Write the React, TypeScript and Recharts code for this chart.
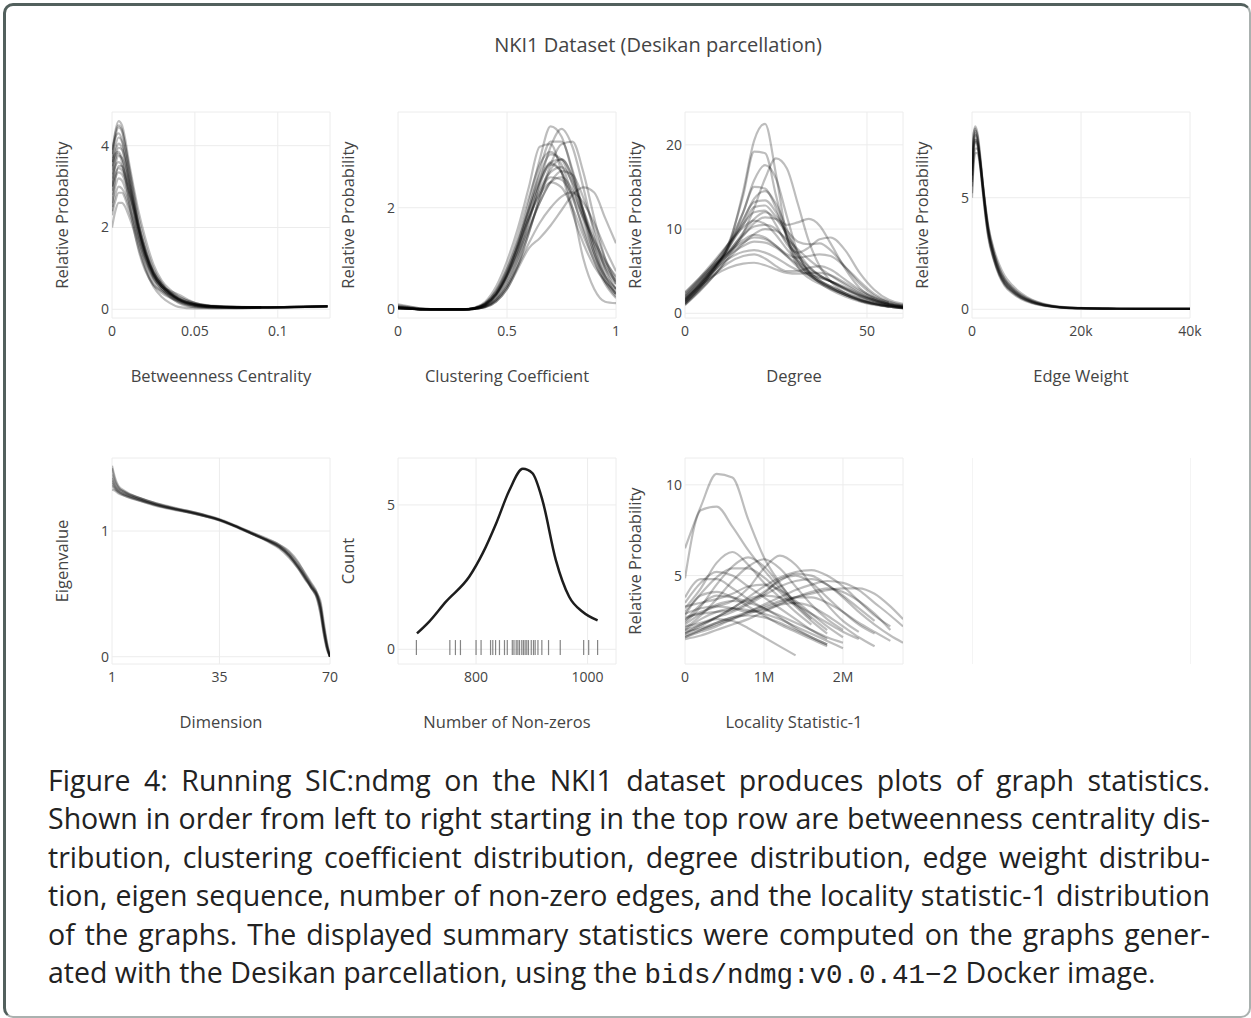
import React from 'react';
import { LineChart, Line, XAxis, YAxis, CartesianGrid, ReferenceLine } from 'recharts';

// Betweenness centrality: shared x grid, one y array per graph
const BC_X = [0, 0.002, 0.004, 0.006, 0.008, 0.01, 0.013, 0.016, 0.02, 0.025, 0.03, 0.035, 0.04, 0.05, 0.06, 0.075, 0.09, 0.11, 0.13];
const BC_CURVES = [
  [3.8, 4.35, 4.6, 4.5, 4.15, 3.65, 3.0, 2.4, 1.75, 1.1, 0.7, 0.48, 0.32, 0.15, 0.09, 0.06, 0.05, 0.06, 0.08],
  [3.6, 4.2, 4.45, 4.35, 4.0, 3.55, 2.9, 2.25, 1.6, 1.0, 0.65, 0.42, 0.28, 0.13, 0.08, 0.06, 0.05, 0.06, 0.07],
  [3.9, 4.2, 4.3, 4.15, 3.8, 3.35, 2.7, 2.1, 1.5, 0.95, 0.62, 0.4, 0.26, 0.12, 0.08, 0.05, 0.05, 0.06, 0.08],
  [3.3, 3.95, 4.2, 4.1, 3.75, 3.3, 2.65, 2.05, 1.45, 0.9, 0.6, 0.42, 0.3, 0.15, 0.08, 0.06, 0.05],
  [3.5, 3.85, 4.05, 3.95, 3.65, 3.2, 2.6, 2.0, 1.4, 0.88, 0.58, 0.38, 0.25, 0.12, 0.07, 0.05, 0.04, 0.05, 0.07],
  [3.0, 3.65, 3.95, 3.9, 3.6, 3.2, 2.6, 2.0, 1.35, 0.85, 0.55, 0.37, 0.24, 0.11, 0.07, 0.05, 0.05, 0.06, 0.08],
  [3.6, 3.8, 3.85, 3.7, 3.4, 3.0, 2.45, 1.9, 1.3, 0.82, 0.55, 0.38, 0.26, 0.13, 0.08, 0.05, 0.05],
  [2.9, 3.5, 3.75, 3.7, 3.45, 3.1, 2.55, 2.0, 1.4, 0.9, 0.6, 0.4, 0.26, 0.12, 0.07, 0.05, 0.04, 0.05, 0.07],
  [3.2, 3.5, 3.6, 3.5, 3.25, 2.9, 2.4, 1.85, 1.3, 0.8, 0.55, 0.45, 0.36, 0.16, 0.08, 0.05, 0.05, 0.06, 0.07],
  [2.5, 3.2, 3.5, 3.5, 3.3, 3.0, 2.5, 1.95, 1.35, 0.85, 0.55, 0.36, 0.23, 0.1, 0.06, 0.04, 0.04, 0.05, 0.07],
  [2.8, 3.2, 3.35, 3.3, 3.1, 2.8, 2.3, 1.8, 1.25, 0.78, 0.5, 0.33, 0.2, 0.08, 0.05, 0.04, 0.05],
  [2.6, 3.0, 3.2, 3.15, 2.95, 2.65, 2.2, 1.7, 1.15, 0.7, 0.45, 0.3, 0.2, 0.08, 0.05, 0.04, 0.04, 0.05, 0.06],
  [2.4, 2.8, 3.0, 2.95, 2.8, 2.55, 2.15, 1.7, 1.2, 0.75, 0.5, 0.3, 0.16, 0.05, 0.03, 0.03, 0.04, 0.05, 0.07],
  [2.3, 2.65, 2.85, 2.85, 2.7, 2.45, 2.05, 1.6, 1.05, 0.6, 0.4, 0.28, 0.18, 0.06, 0.04, 0.03, 0.04],
  [2.0, 2.4, 2.6, 2.6, 2.5, 2.3, 1.95, 1.5, 1.0, 0.55, 0.3, 0.15, 0.06, 0.02, 0.02, 0.03, 0.04, 0.05, 0.07],
  [3.7, 4.3, 4.5, 4.4, 4.0, 3.5, 2.8, 2.1, 1.45, 0.85, 0.55, 0.37, 0.24, 0.11, 0.07, 0.05, 0.05, 0.06, 0.08],
  [3.4, 3.7, 3.8, 3.6, 3.2, 2.7, 2.0, 1.45, 0.95, 0.6, 0.45, 0.35, 0.22, 0.09, 0.05, 0.04, 0.05],
  [3.0, 3.3, 3.45, 3.4, 3.2, 2.9, 2.45, 1.95, 1.4, 0.9, 0.6, 0.4, 0.25, 0.1, 0.06, 0.05, 0.05, 0.06, 0.07],
];

// Clustering coefficient
const CC_X = [0, 0.05, 0.1, 0.2, 0.3, 0.35, 0.4, 0.45, 0.5, 0.55, 0.6, 0.65, 0.7, 0.75, 0.8, 0.85, 0.9, 0.95, 1.0];
const CC_CURVES = [
  [0.05, 0.03, 0.01, 0, 0, 0.02, 0.1, 0.3, 0.7, 1.3, 2.1, 2.95, 3.6, 3.4, 2.7, 1.9, 1.2, 0.7, 0.4],
  [0.02, 0.01, 0, 0, 0, 0.01, 0.06, 0.2, 0.5, 1.0, 1.7, 2.5, 3.2, 3.55, 3.2, 2.4, 1.5, 0.8, 0.4],
  [0.1, 0.06, 0.02, 0, 0, 0.03, 0.15, 0.45, 0.95, 1.6, 2.4, 3.2, 3.25, 2.7, 1.9, 1.3, 0.85, 0.55, 0.35],
  [0.03, 0.02, 0, 0, 0, 0.01, 0.05, 0.18, 0.45, 0.9, 1.5, 2.2, 2.85, 3.25, 3.3, 2.7, 1.8, 1.0, 0.5],
  [0.05, 0.03, 0.01, 0, 0, 0.02, 0.1, 0.32, 0.72, 1.3, 2.0, 2.65, 3.05, 2.95, 2.45, 1.75, 1.1, 0.62, 0.3],
  [0.02, 0.01, 0, 0, 0, 0.02, 0.08, 0.28, 0.65, 1.15, 1.8, 2.45, 2.9, 2.95, 2.6, 1.95, 1.3, 0.8, 0.5],
  [0.06, 0.04, 0.01, 0, 0, 0.02, 0.12, 0.38, 0.8, 1.35, 1.95, 2.5, 2.85, 2.7, 2.2, 1.6, 1.05, 0.65, 0.4],
  [0.02, 0.01, 0, 0, 0, 0.01, 0.06, 0.22, 0.55, 1.0, 1.55, 2.1, 2.5, 2.72, 2.65, 2.2, 1.6, 1.0, 0.6],
  [0.04, 0.02, 0, 0, 0, 0.02, 0.1, 0.3, 0.65, 1.1, 1.6, 2.1, 2.5, 2.6, 2.35, 1.85, 1.3, 0.85, 0.55],
  [0.08, 0.05, 0.02, 0, 0, 0.03, 0.12, 0.35, 0.75, 1.25, 1.8, 2.25, 2.5, 2.4, 2.0, 1.45, 0.95, 0.55, 0.3],
  [0.03, 0.02, 0, 0, 0, 0.02, 0.09, 0.3, 0.7, 1.25, 1.9, 2.55, 2.88, 2.7, 2.0, 1.0, 0.4, 0.15, 0.12],
  [0.02, 0.01, 0, 0, 0, 0.01, 0.04, 0.15, 0.4, 0.8, 1.2, 1.4, 1.65, 1.95, 2.25, 2.4, 2.3, 1.8, 1.3],
  [0.02, 0.01, 0, 0, 0, 0.01, 0.05, 0.18, 0.45, 0.85, 1.3, 1.7, 2.0, 2.22, 2.3, 2.1, 1.7, 1.2, 0.75],
  [0.04, 0.02, 0, 0, 0, 0.02, 0.08, 0.28, 0.66, 1.2, 1.95, 2.75, 3.3, 3.3, 2.75, 1.95, 1.2, 0.65, 0.3],
  [0.02, 0.01, 0, 0, 0, 0.01, 0.04, 0.15, 0.4, 0.85, 1.5, 2.2, 2.75, 2.95, 2.6, 1.85, 1.1, 0.55, 0.25],
  [0.06, 0.03, 0.01, 0, 0, 0.02, 0.11, 0.36, 0.82, 1.45, 2.2, 2.85, 3.1, 2.85, 2.25, 1.55, 0.95, 0.5, 0.22],
  [0.03, 0.02, 0, 0, 0, 0.01, 0.07, 0.25, 0.6, 1.1, 1.75, 2.35, 2.7, 2.8, 2.5, 1.95, 1.4, 0.9, 0.55],
  [0.04, 0.02, 0, 0, 0, 0.02, 0.09, 0.3, 0.68, 1.2, 1.8, 2.3, 2.6, 2.55, 2.25, 1.8, 1.35, 0.95, 0.65],
];

// Degree
const DG_X = [0, 4, 8, 12, 16, 19, 22, 25, 28, 31, 34, 37, 40, 44, 48, 52, 56, 60];
const DG_CURVES = [
  [1.2, 3.0, 5.2, 8.0, 14.5, 20.5, 22.5, 16.5, 9.0, 5.5, 4.2, 3.5, 2.9, 2.2, 1.6, 1.2, 0.9, 0.7],
  [1.5, 3.4, 5.6, 8.3, 14, 19.2, 19.0, 14, 9.0, 6.0, 4.6, 3.7, 3.0, 2.2, 1.5, 1.1, 0.8, 0.6],
  [1.0, 2.6, 4.5, 6.8, 9.5, 12.5, 16, 18.4, 17.2, 13, 8.6, 5.6, 3.8, 2.4, 1.6, 1.1, 0.8, 0.6],
  [1.8, 3.5, 5.5, 8.0, 12, 15.8, 17.6, 16, 11.5, 7.2, 4.9, 3.6, 2.8, 2.0, 1.4, 1.0, 0.8, 0.6],
  [2.0, 3.8, 5.9, 8.3, 12, 15.0, 14.8, 12.5, 9.0, 6.2, 4.6, 3.7, 3.0, 2.2, 1.6, 1.1, 0.8],
  [1.4, 3.2, 5.3, 7.8, 11, 13.6, 14.5, 13, 10, 7, 5.0, 3.9, 3.2, 2.4, 1.7, 1.2, 0.9, 0.7],
  [1.6, 3.3, 5.4, 7.8, 10.5, 12.6, 12.8, 11.5, 10.5, 10.8, 11.2, 10.4, 8.3, 5.3, 3.0, 1.8, 1.1, 0.8],
  [2.2, 4.0, 6.0, 8.2, 10.6, 12.0, 12.2, 10.5, 8.2, 7.2, 7.8, 8.8, 9.0, 7.5, 4.8, 2.8, 1.6, 1.1],
  [1.3, 3.0, 5.0, 7.2, 9.6, 11.2, 12.0, 11.2, 9.4, 7.3, 5.6, 4.5, 3.8, 2.8, 2.0, 1.4, 1.0, 0.7],
  [2.4, 4.2, 6.2, 8.3, 10.2, 11.0, 10.6, 9.3, 7.6, 6.2, 5.2, 4.5, 3.8, 2.9, 2.1, 1.5, 1.0, 0.8],
  [1.1, 2.7, 4.5, 6.5, 8.3, 9.4, 10.0, 9.8, 8.8, 7.6, 6.4, 5.4, 4.5, 3.4, 2.4, 1.6, 1.1, 0.8],
  [1.9, 3.7, 5.6, 7.3, 8.7, 9.3, 9.0, 8.0, 7.0, 6.6, 6.8, 7.0, 6.8, 5.5, 3.8, 2.3, 1.4, 1.0],
  [2.1, 3.9, 5.5, 6.9, 8.0, 8.5, 8.4, 7.8, 6.8, 5.8, 4.9, 4.3, 3.8, 3.0, 2.2, 1.6, 1.1, 0.8],
  [1.5, 3.4, 5.1, 6.5, 7.3, 7.5, 7.2, 6.6, 5.8, 5.1, 4.6, 4.2, 3.8, 3.1, 2.3, 1.6, 1.1],
  [1.7, 3.2, 4.5, 5.4, 5.9, 6.0, 5.7, 5.2, 4.8, 4.7, 4.8, 4.8, 4.5, 3.6, 2.6, 1.8, 1.2, 0.9],
  [1.0, 2.8, 4.6, 6.0, 6.8, 7.0, 6.5, 5.6, 5.0, 5.0, 5.4, 5.6, 5.2, 4.0, 2.8, 1.9, 1.3],
  [1.7, 3.5, 5.4, 7.4, 9.3, 10.3, 10.5, 10.0, 8.5, 6.8, 5.5, 4.5, 3.8, 2.9, 2.1, 1.5, 1.0, 0.7],
  [1.2, 3.0, 5.0, 7.1, 9.2, 10.7, 11.4, 11.2, 9.8, 8.5, 8.2, 8.3, 7.5, 5.5, 3.5, 2.1, 1.3, 0.9],
  [2.5, 4.2, 5.8, 7.2, 8.4, 9.0, 8.8, 8.0, 6.8, 5.5, 4.5, 3.8, 3.2, 2.4, 1.8, 1.3, 0.9, 0.6],
  [1.4, 3.1, 5.2, 7.9, 11.2, 13.2, 13.4, 12.0, 9.3, 6.6, 4.9, 3.9, 3.1, 2.2, 1.5, 1.1, 0.8, 0.6],
];

// Edge weight
const EW_X = [0, 300, 600, 1000, 1500, 2000, 2500, 3000, 4000, 5000, 6000, 7500, 9000, 11000, 13000, 16000, 20000, 25000, 30000, 35000, 40000];
const EW_CURVES = [
  [6.2, 7.8, 8.2, 7.9, 6.9, 5.6, 4.4, 3.5, 2.4, 1.65, 1.2, 0.82, 0.55, 0.33, 0.2, 0.1, 0.05, 0.03, 0.02, 0.02, 0.02],
  [5.8, 7.4, 7.8, 7.6, 6.7, 5.5, 4.4, 3.5, 2.45, 1.7, 1.25, 0.85, 0.58, 0.35, 0.21, 0.1, 0.05, 0.03, 0.02, 0.02, 0.02],
  [6.5, 7.9, 8.1, 7.7, 6.6, 5.3, 4.2, 3.3, 2.25, 1.55, 1.1, 0.75, 0.5, 0.3, 0.18, 0.09, 0.04, 0.03, 0.02, 0.02, 0.02],
  [5.2, 6.6, 7.2, 7.2, 6.6, 5.6, 4.6, 3.7, 2.6, 1.85, 1.35, 0.92, 0.62, 0.37, 0.22, 0.1, 0.05, 0.03, 0.02, 0.02, 0.02],
  [6.0, 7.3, 7.6, 7.3, 6.4, 5.2, 4.1, 3.2, 2.2, 1.5, 1.05, 0.7, 0.46, 0.27, 0.16, 0.08, 0.04, 0.02, 0.02, 0.02, 0.02],
  [5.5, 7.0, 7.5, 7.4, 6.6, 5.5, 4.4, 3.5, 2.5, 1.8, 1.35, 0.95, 0.66, 0.4, 0.24, 0.11, 0.05, 0.03, 0.02, 0.02, 0.02],
  [6.3, 7.6, 7.9, 7.5, 6.5, 5.3, 4.2, 3.3, 2.3, 1.6, 1.15, 0.78, 0.52, 0.31, 0.19, 0.09, 0.04, 0.03, 0.02, 0.02, 0.02],
  [5.0, 6.5, 7.0, 7.0, 6.4, 5.4, 4.5, 3.7, 2.7, 2.0, 1.5, 1.05, 0.72, 0.43, 0.26, 0.12, 0.06, 0.03, 0.02, 0.02, 0.02],
  [6.0, 7.5, 8.0, 7.8, 6.8, 5.5, 4.3, 3.4, 2.3, 1.6, 1.15, 0.8, 0.54, 0.32, 0.19, 0.09, 0.04, 0.03, 0.02, 0.02, 0.02],
  [5.7, 7.1, 7.6, 7.5, 6.7, 5.6, 4.5, 3.6, 2.5, 1.75, 1.3, 0.9, 0.6, 0.36, 0.21, 0.1, 0.05, 0.03, 0.02, 0.02, 0.02],
];

// Eigen sequence
const EV_X = [1, 2, 3, 5, 10, 15, 20, 25, 30, 35, 40, 45, 50, 54, 57, 60, 62, 64, 66, 67, 68, 69, 70];
const EV_CURVES = [
  [1.42, 1.36, 1.33, 1.3, 1.25, 1.21, 1.18, 1.155, 1.125, 1.09, 1.04, 0.985, 0.93, 0.88, 0.82, 0.72, 0.65, 0.57, 0.49, 0.42, 0.25, 0.1, 0],
  [1.36, 1.33, 1.31, 1.28, 1.24, 1.205, 1.175, 1.15, 1.12, 1.085, 1.035, 0.98, 0.925, 0.87, 0.8, 0.7, 0.62, 0.55, 0.47, 0.38, 0.22, 0.08, 0],
  [1.5, 1.4, 1.35, 1.31, 1.26, 1.22, 1.185, 1.16, 1.13, 1.095, 1.045, 0.99, 0.935, 0.89, 0.83, 0.74, 0.67, 0.59, 0.5, 0.4, 0.24, 0.11, 0],
  [1.4, 1.35, 1.32, 1.29, 1.245, 1.21, 1.18, 1.15, 1.12, 1.088, 1.04, 0.98, 0.92, 0.86, 0.79, 0.7, 0.63, 0.55, 0.46, 0.35, 0.2, 0.07, 0],
  [1.45, 1.38, 1.34, 1.31, 1.26, 1.215, 1.185, 1.158, 1.128, 1.092, 1.042, 0.99, 0.94, 0.89, 0.84, 0.75, 0.66, 0.58, 0.5, 0.44, 0.28, 0.12, 0],
  [1.38, 1.34, 1.315, 1.29, 1.25, 1.205, 1.178, 1.152, 1.122, 1.088, 1.038, 0.982, 0.928, 0.875, 0.81, 0.71, 0.64, 0.56, 0.48, 0.39, 0.23, 0.09, 0],
  [1.52, 1.42, 1.36, 1.32, 1.26, 1.22, 1.19, 1.16, 1.13, 1.09, 1.04, 0.985, 0.93, 0.88, 0.81, 0.72, 0.64, 0.55, 0.45, 0.34, 0.18, 0.06, 0],
  [1.33, 1.32, 1.3, 1.28, 1.24, 1.2, 1.172, 1.148, 1.12, 1.085, 1.036, 0.98, 0.925, 0.87, 0.81, 0.71, 0.63, 0.56, 0.48, 0.38, 0.2, 0.08, 0],
];

// Number of non-zeros: density curve and rug of individual graphs
const NZ_X = [694, 716, 746, 788, 812, 836, 860, 884, 901, 919, 943, 967, 991, 1018];
const NZ_Y = [0.55, 0.96, 1.65, 2.52, 3.33, 4.36, 5.52, 6.25, 6.1, 5.17, 3.1, 1.82, 1.3, 1.0];
const NZ_RUG = [693, 753, 763, 772, 800, 809, 826, 830, 835, 842, 851, 856, 865, 868, 872, 875, 878, 882, 885, 888, 891, 894, 899, 903, 906, 911, 918, 930, 951, 993, 1002, 1018];

// Locality statistic-1
const LS_X = [0, 200000, 400000, 600000, 800000, 1000000, 1200000, 1400000, 1600000, 1800000, 2000000, 2200000, 2400000, 2600000, 2760000];
const LS_CURVES = [
  [6.5, 8.8, 10.6, 10.4, 8.1, 6.0, 4.6, 3.4],
  [4.85, 8.6, 8.8, 7.7, 6.4, 5.3, 4.3, 3.4, 2.6],
  [3.2, 4.3, 5.7, 6.3, 5.6, 4.6, 3.8, 3.0, 2.3],
  [2.4, 3.3, 4.5, 5.5, 6.0, 5.5, 4.5, 3.5, 2.7, 2.0],
  [2.1, 2.8, 3.7, 4.7, 5.5, 5.9, 5.4, 4.4, 3.4, 2.6, 2.0],
  [2.6, 3.0, 3.3, 3.6, 4.3, 5.4, 6.1, 5.6, 4.5, 3.4, 2.5, 1.9],
  [3.5, 4.6, 5.2, 5.0, 4.4, 3.8, 3.2, 2.6, 2.0, 1.5],
  [2.0, 2.3, 2.7, 3.2, 3.8, 4.4, 4.9, 5.2, 5.3, 5.0, 4.4, 3.6, 2.8, 2.2],
  [1.6, 1.9, 2.2, 2.6, 3.0, 3.4, 3.8, 4.2, 4.5, 4.7, 4.6, 4.2, 3.5, 2.8, 2.2],
  [1.7, 2.0, 2.3, 2.6, 2.9, 3.2, 3.5, 3.8, 4.0, 4.2, 4.3, 4.3, 4.0, 3.3, 2.6],
  [3.0, 4.0, 4.9, 5.4, 5.4, 4.9, 4.1, 3.3, 2.5, 1.8],
  [2.8, 3.9, 4.1, 3.8, 3.3, 2.8, 2.3, 1.9, 1.5, 1.1],
  [2.0, 2.6, 3.0, 3.2, 3.1, 2.9, 2.6, 2.2, 1.8, 1.4, 1.0],
  [1.6, 2.0, 2.4, 2.7, 2.8, 2.7, 2.4, 2.0, 1.6, 1.2],
  [1.8, 2.2, 2.7, 3.2, 3.7, 3.9, 3.8, 3.4, 2.9, 2.4, 1.9, 1.5],
  [2.2, 2.4, 2.7, 3.0, 3.4, 3.9, 4.4, 4.7, 4.8, 4.5, 3.9, 3.2, 2.5],
  [2.5, 3.4, 3.9, 3.8, 3.6, 4.0, 4.8, 5.0, 4.6, 3.8, 3.0, 2.3, 1.8],
  [3.8, 4.8, 4.8, 4.3, 3.7, 3.2, 2.8, 2.4, 2.0, 1.6, 1.3],
  [2.3, 2.9, 3.4, 3.6, 3.5, 3.2, 2.7, 2.1, 1.6, 1.2],
  [1.5, 1.7, 2.0, 2.3, 2.6, 3.0, 3.4, 3.8, 4.1, 4.3, 4.1, 3.6, 2.9, 2.0],
  [1.9, 2.1, 2.4, 2.7, 3.0, 3.3, 3.6, 3.8, 3.8, 3.5, 3.0, 2.4, 1.9, 1.4],
  [2.7, 2.9, 3.0, 3.1, 3.5, 4.1, 4.7, 5.1, 5.0, 4.5, 3.8, 3.0, 2.3, 1.7, 1.3],
  [3.3, 3.5, 3.7, 4.0, 4.4, 4.5, 4.2, 3.6, 2.9, 2.2, 1.6],
  [1.8, 2.3, 2.6, 2.5, 2.1, 1.6, 1.1, 0.6],
  [2.9, 3.2, 3.3, 3.2, 3.0, 3.1, 3.4, 3.5, 3.3, 2.8, 2.2, 1.6, 1.1],
];

const CAPTION_LINES = [
  'Figure 4:  Running SIC:ndmg on the NKI1 dataset produces plots of graph statistics.',
  'Shown in order from left to right starting in the top row are betweenness centrality dis-',
  'tribution, clustering coefficient distribution, degree distribution, edge weight distribu-',
  'tion, eigen sequence, number of non-zero edges, and the locality statistic-1 distribution',
  'of the graphs.  The displayed summary statistics were computed on the graphs gener-',
];

const FONT = '"Open Sans", "Noto Sans", sans-serif';
const PLOT_W = 218;
const PLOT_H = 206;
const PAD_L = 40;
const PAD_T = 4;
const PAD_R = 24;
const PAD_B = 30;
const tickStyle = { fill: '#444', fontSize: 14, fontFamily: FONT };

type Pt = { x: number; y: number };
const toPts = (xs: number[], ys: number[]): Pt[] => ys.map((y, i) => ({ x: xs[i], y }));

type PanelProps = {
  left: number;
  top: number;
  xDomain: [number, number];
  yDomain: [number, number];
  xTicks: number[];
  yTicks: number[];
  xFmt?: (v: number) => string;
  xTitle: string;
  yTitle: string;
  series: Pt[][];
  stroke?: string;
  opacity?: number;
  strokeWidth?: number;
  extra?: React.ReactNode;
};

function Panel(p: PanelProps) {
  const w = PLOT_W + PAD_L + PAD_R;
  const h = PLOT_H + PAD_T + PAD_B;
  return (
    <>
      <div style={{ position: 'absolute', left: p.left - PAD_L, top: p.top - PAD_T, width: w, height: h }}>
        <LineChart width={w} height={h} margin={{ top: PAD_T, right: PAD_R, bottom: 0, left: 0 }}>
          <CartesianGrid stroke="#ececec" strokeWidth={1} />
          <XAxis
            type="number"
            dataKey="x"
            domain={p.xDomain}
            ticks={p.xTicks}
            interval={0}
            allowDataOverflow
            tickFormatter={p.xFmt}
            axisLine={false}
            tickLine={false}
            tickSize={0}
            tickMargin={8}
            height={PAD_B}
            tick={tickStyle}
          />
          <YAxis
            type="number"
            dataKey="y"
            domain={p.yDomain}
            ticks={p.yTicks}
            interval={0}
            allowDataOverflow
            axisLine={false}
            tickLine={false}
            tickSize={0}
            tickMargin={3}
            width={PAD_L}
            tick={tickStyle}
          />
          {p.series.map((d, i) => (
            <Line
              key={i}
              data={d}
              dataKey="y"
              type="monotone"
              stroke={p.stroke ?? '#000'}
              strokeOpacity={p.opacity ?? 0.26}
              strokeWidth={p.strokeWidth ?? 2.2}
              dot={false}
              activeDot={false}
              isAnimationActive={false}
            />
          ))}
          {p.extra}
        </LineChart>
      </div>
      <div
        style={{
          position: 'absolute',
          left: p.left - 50 - 110,
          top: p.top + PLOT_H / 2 - 11,
          width: 220,
          height: 22,
          lineHeight: '22px',
          textAlign: 'center',
          transform: 'rotate(-90deg)',
          color: '#444',
          fontSize: 16.5,
          fontFamily: FONT,
          whiteSpace: 'nowrap',
        }}
      >
        {p.yTitle}
      </div>
      <div
        style={{
          position: 'absolute',
          left: p.left - 40,
          top: p.top + PLOT_H + 58 - 11,
          width: PLOT_W + 80,
          height: 22,
          lineHeight: '22px',
          textAlign: 'center',
          color: '#444',
          fontSize: 16.5,
          fontFamily: FONT,
          whiteSpace: 'nowrap',
        }}
      >
        {p.xTitle}
      </div>
    </>
  );
}

const COLS = [112, 398, 685, 972];
const ROWS = [112, 458];

export default function App() {
  const kFmt = (v: number) => (v === 0 ? '0' : `${v / 1000}k`);
  const mFmt = (v: number) => (v === 0 ? '0' : `${v / 1000000}M`);
  const rug = NZ_RUG.map((v, i) => (
    <ReferenceLine
      key={`r${i}`}
      segment={[{ x: v, y: -0.2 }, { x: v, y: 0.32 }]}
      stroke="#666"
      strokeOpacity={0.8}
      strokeWidth={1.2}
      ifOverflow="visible"
    />
  ));

  return (
    <div
      style={{
        position: 'absolute',
        left: 0,
        top: 0,
        width: 1251,
        height: 1018,
        background: '#fff',
        fontFamily: FONT,
        overflow: 'hidden',
      }}
    >
      <div
        style={{
          position: 'absolute',
          left: 3,
          top: 3,
          width: 1243,
          height: 1010,
          borderTop: '3px solid #52605d',
          borderLeft: '3px solid #52605d',
          borderRight: '2px solid #aab1af',
          borderBottom: '2px solid #aab1af',
          borderRadius: 10,
        }}
      />
      <div
        style={{
          position: 'absolute',
          left: 358,
          top: 32,
          width: 600,
          height: 26,
          lineHeight: '26px',
          textAlign: 'center',
          fontSize: 20,
          color: '#444',
        }}
      >
        NKI1 Dataset (Desikan parcellation)
      </div>

      <Panel
        left={COLS[0]}
        top={ROWS[0]}
        xDomain={[0, 0.1315]}
        yDomain={[-0.213, 4.824]}
        xTicks={[0, 0.05, 0.1]}
        yTicks={[0, 2, 4]}
        xTitle="Betweenness Centrality"
        yTitle="Relative Probability"
        series={BC_CURVES.map((c) => toPts(BC_X, c))}
      />
      <Panel
        left={COLS[1]}
        top={ROWS[0]}
        xDomain={[0, 1]}
        yDomain={[-0.171, 3.884]}
        xTicks={[0, 0.5, 1]}
        yTicks={[0, 2]}
        xTitle="Clustering Coefficient"
        yTitle="Relative Probability"
        series={CC_CURVES.map((c) => toPts(CC_X, c))}
      />
      <Panel
        left={COLS[2]}
        top={ROWS[0]}
        xDomain={[0, 59.9]}
        yDomain={[-0.558, 23.9]}
        xTicks={[0, 50]}
        yTicks={[0, 10, 20]}
        xTitle="Degree"
        yTitle="Relative Probability"
        series={DG_CURVES.map((c) => toPts(DG_X, c))}
      />
      <Panel
        left={COLS[3]}
        top={ROWS[0]}
        xDomain={[0, 40000]}
        yDomain={[-0.39, 8.84]}
        xTicks={[0, 20000, 40000]}
        yTicks={[0, 5]}
        xFmt={kFmt}
        xTitle="Edge Weight"
        yTitle="Relative Probability"
        series={EW_CURVES.map((c) => toPts(EW_X, c))}
      />
      <Panel
        left={COLS[0]}
        top={ROWS[1]}
        xDomain={[1, 70]}
        yDomain={[-0.058, 1.581]}
        xTicks={[1, 35, 70]}
        yTicks={[0, 1]}
        xTitle="Dimension"
        yTitle="Eigenvalue"
        series={EV_CURVES.map((c) => toPts(EV_X, c))}
      />
      <Panel
        left={COLS[1]}
        top={ROWS[1]}
        xDomain={[660, 1051]}
        yDomain={[-0.509, 6.626]}
        xTicks={[800, 1000]}
        yTicks={[0, 5]}
        xTitle="Number of Non-zeros"
        yTitle="Count"
        series={[toPts(NZ_X, NZ_Y)]}
        stroke="#111"
        opacity={0.95}
        strokeWidth={2.5}
        extra={rug}
      />
      <Panel
        left={COLS[2]}
        top={ROWS[1]}
        xDomain={[0, 2760000]}
        yDomain={[0.127, 11.48]}
        xTicks={[0, 1000000, 2000000]}
        yTicks={[5, 10]}
        xFmt={mFmt}
        xTitle="Locality Statistic-1"
        yTitle="Relative Probability"
        series={LS_CURVES.map((c) => toPts(LS_X, c))}
      />
      {/* empty eighth cell keeps only its faint frame lines */}
      <div style={{ position: 'absolute', left: COLS[3], top: ROWS[1], width: 1, height: PLOT_H, background: '#f4f4f4' }} />
      <div style={{ position: 'absolute', left: COLS[3] + PLOT_W, top: ROWS[1], width: 1, height: PLOT_H, background: '#f4f4f4' }} />

      <div style={{ position: 'absolute', left: 48, top: 761, width: 1162, color: '#222', fontSize: 28.5 }}>
        {CAPTION_LINES.map((line, i) => (
          <div
            key={i}
            style={{ height: 38.4, lineHeight: '38.4px', textAlign: 'justify', textAlignLast: 'justify', whiteSpace: 'nowrap' }}
          >
            {line}
          </div>
        ))}
        <div style={{ height: 38.4, lineHeight: '38.4px', whiteSpace: 'nowrap' }}>
          ated with the Desikan parcellation, using the{' '}
          <span style={{ fontFamily: '"Liberation Mono", "DejaVu Sans Mono", monospace', fontSize: 27.5 }}>
            bids/ndmg:v0.0.41−2
          </span>{' '}
          Docker image.
        </div>
      </div>
    </div>
  );
}
